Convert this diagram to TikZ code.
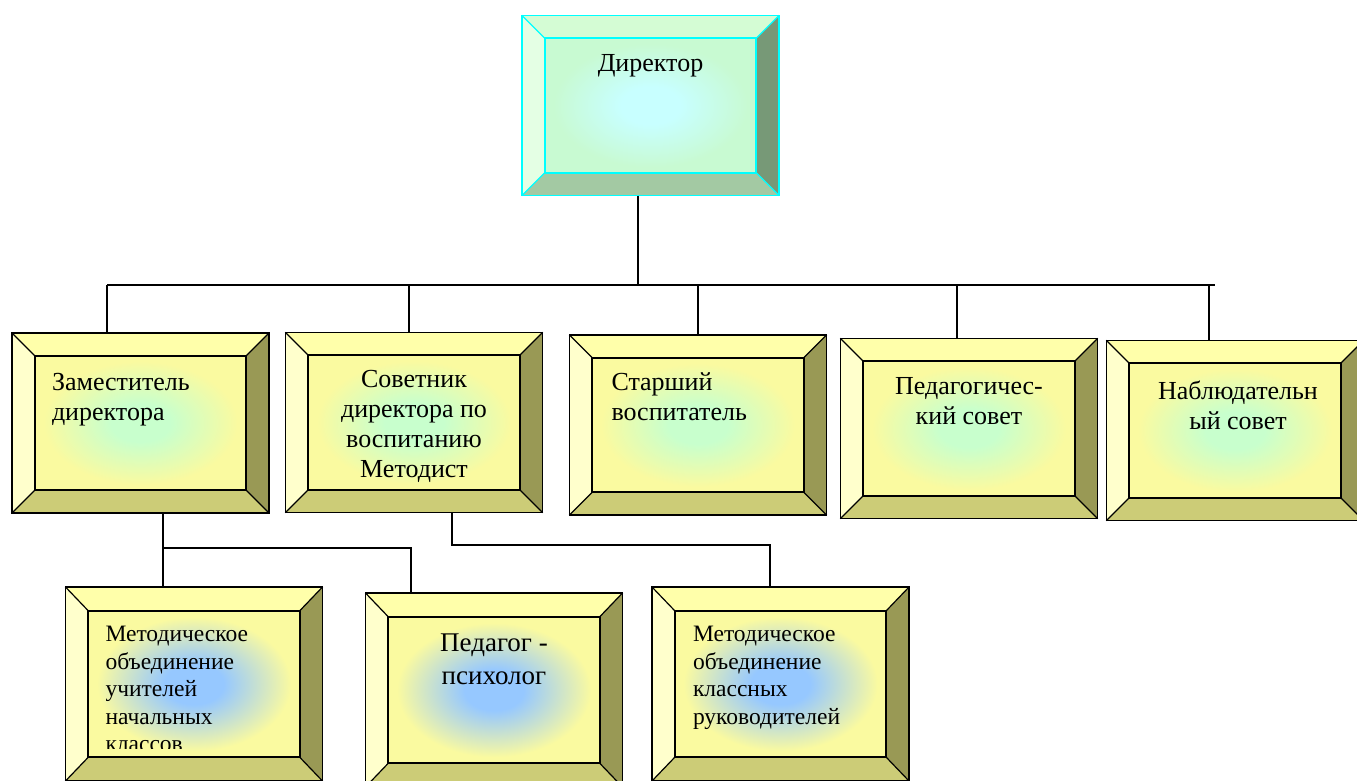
\documentclass[tikz,border=0pt]{standalone}
\usepackage{fontspec}
\setmainfont{Liberation Serif}
\usetikzlibrary{positioning}

\definecolor{plateTop}{RGB}{255,255,170}
\definecolor{plateLeft}{RGB}{255,255,204}
\definecolor{plateRight}{RGB}{153,153,85}
\definecolor{plateBottom}{RGB}{204,204,119}
\definecolor{plateEdge}{RGB}{0,0,0}
\definecolor{plateFace}{RGB}{250,250,160}
\definecolor{faceGreen}{RGB}{200,255,205}
\definecolor{faceBlue}{RGB}{150,200,255}
\definecolor{dirTop}{RGB}{212,252,212}
\definecolor{dirLeft}{RGB}{228,255,228}
\definecolor{dirRight}{RGB}{119,153,119}
\definecolor{dirBottom}{RGB}{163,201,163}
\definecolor{dirEdge}{RGB}{0,255,255}
\definecolor{dirFace}{RGB}{200,250,210}
\definecolor{dirCore}{RGB}{200,255,255}
\colorlet{faceInner}{faceGreen}
\colorlet{faceOuter}{plateFace}

% glow from the middle of a face
\pgfdeclareradialshading[faceInner,faceOuter]{plateglow}{\pgfpoint{0bp}{0bp}}{%
  color(0bp)=(faceInner); color(7bp)=(faceInner); color(23bp)=(faceOuter); color(50bp)=(faceOuter)}

% bevelled frame round node #1 and #1-in, colours named #2Top, #2Left, ...
\newcommand{\platebevel}[2]{%
  \fill[#2Top] (#1.north west) -- (#1.north east) -- (#1-in.north east) -- (#1-in.north west) -- cycle;
  \fill[#2Left] (#1.north west) -- (#1-in.north west) -- (#1-in.south west) -- (#1.south west) -- cycle;
  \fill[#2Right] (#1.north east) -- (#1.south east) -- (#1-in.south east) -- (#1-in.north east) -- cycle;
  \fill[#2Bottom] (#1.south west) -- (#1-in.south west) -- (#1-in.south east) -- (#1.south east) -- cycle;
  \draw[#2Edge, line width=1.2pt] (#1.north west) -- (#1-in.north west) (#1.north east) -- (#1-in.north east)
    (#1.south west) -- (#1-in.south west) (#1.south east) -- (#1-in.south east);
  \draw[#2Edge, line width=1.5pt] (#1.north west) rectangle (#1.south east);
  \draw[#2Edge, line width=2pt] (#1-in.north west) rectangle (#1-in.south east);
}

\tikzset{
  plate/.style={rectangle, inner sep=0pt, minimum width=257pt, minimum height=180pt},
  tallplate/.style={plate, minimum height=194pt},
  face/.style 2 args={rectangle, inner sep=0pt, minimum width=211pt, minimum height=134pt,
    /utils/exec={\colorlet{faceInner}{#1}\colorlet{faceOuter}{#2}}, shade, shading=plateglow},
  tallface/.style={face={#1}{plateFace}, minimum height=146pt},
  lbl/.style={inner sep=0pt, font=\fontsize{26}{30}\selectfont},
  small lbl/.style={lbl, font=\fontsize{23.5}{27.6}\selectfont},
  wire/.style={line width=1.5pt}
}

\begin{document}
\begin{tikzpicture}[x=1pt, y=-1pt]
\useasboundingbox (0,0) rectangle (1357,780);
\clip (0,0) rectangle (1357,780);

% boxes
\node[plate] (dir) at (650.5,105.5) {};
\node[face={dirCore}{dirFace}] (dir-in) at (650.5,105.5) {};
\node[plate] (zam) at (140.5,423) {};
\node[face={faceGreen}{plateFace}] (zam-in) at (140.5,423) {};
\node[plate] (sov) at (414,422.5) {};
\node[face={faceGreen}{plateFace}] (sov-in) at (414,422.5) {};
\node[plate] (star) at (698,425) {};
\node[face={faceGreen}{plateFace}] (star-in) at (698,425) {};
\node[plate] (ped) at (969,428.5) {};
\node[face={faceGreen}{plateFace}] (ped-in) at (969,428.5) {};
\node[plate] (nab) at (1235,430.5) {};
\node[face={faceGreen}{plateFace}] (nab-in) at (1235,430.5) {};
\node[tallplate] (mo1) at (194,684) {};
\node[tallface=faceBlue] (mo1-in) at (194,684) {};
\node[tallplate] (psy) at (494,690) {};
\node[tallface=faceBlue] (psy-in) at (494,690) {};
\node[tallplate] (mo2) at (780.5,684) {};
\node[tallface=faceBlue] (mo2-in) at (780.5,684) {};

\platebevel{dir}{dir}
\platebevel{zam}{plate}
\platebevel{sov}{plate}
\platebevel{star}{plate}
\platebevel{ped}{plate}
\platebevel{nab}{plate}
\platebevel{mo1}{plate}
\platebevel{psy}{plate}
\platebevel{mo2}{plate}

% texts
\node[lbl, below=16pt of dir-in.north] (dir-t) {Директор};
\node[lbl, align=left, below right=17pt and 17pt of zam-in.north west] (zam-t) {Заместитель\\директора};
\node[lbl, align=center, below=15pt of sov-in.north] (sov-t) {Советник\\директора по\\воспитанию\\Методист};
\node[lbl, align=left, below right=15pt and 19pt of star-in.north west] (star-t) {Старший\\воспитатель};
\node[lbl, align=center, below=16pt of ped-in.north] (ped-t) {Педагогичес-\\кий совет};
\node[lbl, align=center, below=17pt of nab-in.north, xshift=3pt] (nab-t) {Наблюдательн\\ый совет};
\begin{scope}
\clip (90,600) rectangle (298,748);
\node[small lbl, align=left, below right=15pt and 17pt of mo1-in.north west] (mo1-t) {Методическое\\объединение\\учителей\\начальных\\классов};
\end{scope}
\node[lbl, align=center, font=\fontsize{27}{33}\selectfont, below=17pt of psy-in.north] (psy-t) {Педагог -\\психолог};
\node[small lbl, align=left, below right=15pt and 18pt of mo2-in.north west] (mo2-t) {Методическое\\объединение\\классных\\руководителей};

% connectors
\coordinate (busL) at (107,285);
\coordinate (busR) at (1215,285);
\coordinate (jDir) at (638,285);
\coordinate (jSov) at (409,285);
\coordinate (jStar) at (698,285);
\coordinate (jPed) at (957,285);
\coordinate (jNab) at (1209,285);
\draw[wire] (busL) -- (busR);
\draw[wire] (jDir |- dir.south) -- (jDir);
\draw[wire] (busL) -- (busL |- zam.north);
\draw[wire] (jSov) -- (jSov |- sov.north);
\draw[wire] (jStar) -- (jStar |- star.north);
\draw[wire] (jPed) -- (jPed |- ped.north);
\draw[wire] (jNab) -- (jNab |- nab.north);

\coordinate (jZam) at (163,548);
\coordinate (jPsy) at (411,548);
\coordinate (jSovB) at (452,545);
\coordinate (jMo2) at (770,545);
\draw[wire] (jZam |- zam.south) -- (jZam |- mo1.north);
\draw[wire] (jZam) -- (jPsy) -- (jPsy |- psy.north);
\draw[wire] (jSovB |- sov.south) -- (jSovB) -- (jMo2) -- (jMo2 |- mo2.north);
\end{tikzpicture}
\end{document}
